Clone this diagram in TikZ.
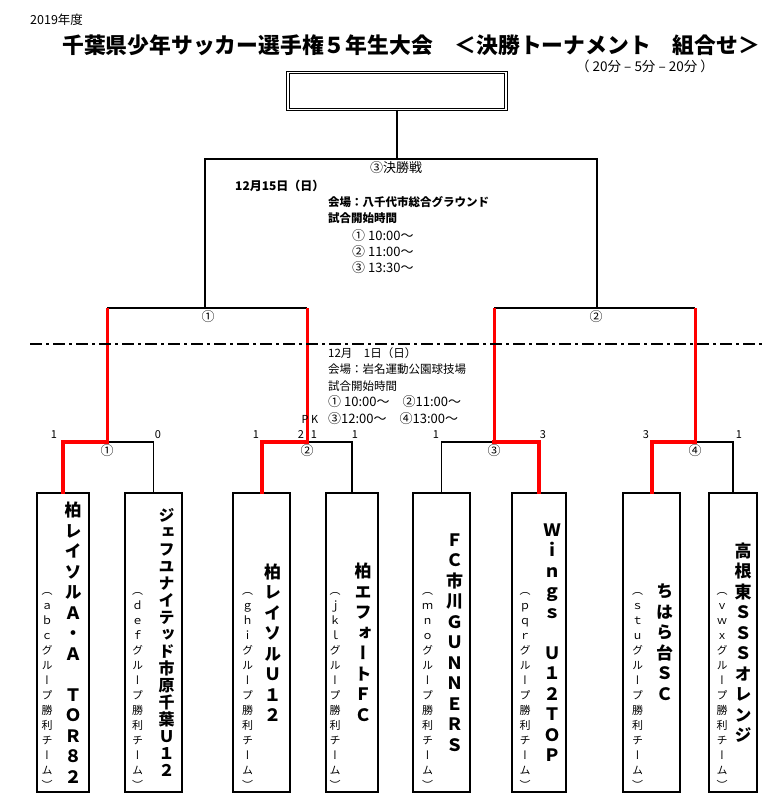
\documentclass[tikz,border=0pt]{standalone}
\usepackage{fontspec}
\setmainfont{Noto Sans CJK JP}
\newfontfamily\tatefont{Noto Sans CJK JP}[RawFeature=+vert]
\usetikzlibrary{positioning}

\ExplSyntaxOn
\NewDocumentCommand\tate{O{20.5pt}m}
 {
  \vbox{
   \baselineskip=#1 \lineskiplimit=-\maxdimen
   \tl_map_inline:nn {#2} { \hbox to 1.2em {\hss ##1 \hss} }
  }
 }
\ExplSyntaxOff

\begin{document}
\begin{tikzpicture}[x=1pt,y=-1pt,
    bracket line/.style={draw=black,line width=1.2pt},
    final line/.style={draw=black,line width=1.6pt},
    win line/.style={draw=red,line width=4pt,line cap=rect},
    semi line/.style={draw=red,line width=3pt},
    team box/.style={draw,line width=1.1pt,minimum height=299pt,inner sep=0pt},
    team name/.style={inner sep=0pt,font=\tatefont\fontsize{17}{17}\selectfont\bfseries},
    group text/.style={inner sep=0pt,font=\tatefont\fontsize{11}{11}\selectfont},
    match no/.style={inner sep=0pt,font=\fontsize{13}{13}\selectfont},
    score/.style={inner sep=0pt,font=\fontsize{11}{11}\selectfont},
    info text/.style={inner sep=0pt,anchor=west,font=\fontsize{11.5}{12}\selectfont},
    bold info/.style={info text,font=\fontsize{11.5}{12}\selectfont\bfseries}]

  \useasboundingbox (0,0) rectangle (778,802);

  % heading
  \node[info text,font=\fontsize{12.5}{12.5}\selectfont] (year) at (30,20) {2019年度};
  \node[info text,font=\fontsize{21.8}{22}\selectfont\bfseries] (title) at (62,45)
    {千葉県少年サッカー選手権５年生大会　＜決勝トーナメント　組合せ＞};
  \node[info text,font=\fontsize{13.5}{13.5}\selectfont] (rule) at (576,66) {（ 20分 – 5分 – 20分 ）};

  \node[draw,double,line width=0.8pt,double distance=1.8pt,
        minimum width=218pt,minimum height=37pt] (champ) at (397,91) {};

  % teams
  \node[team box,minimum width=52pt] (t1) at (63,642.5) {};
  \node[team box,minimum width=57pt] (t2) at (153.5,642.5) {};
  \node[team box,minimum width=57pt] (t3) at (261.5,642.5) {};
  \node[team box,minimum width=52pt] (t4) at (352,642.5) {};
  \node[team box,minimum width=57pt] (t5) at (441.5,642.5) {};
  \node[team box,minimum width=54pt] (t6) at (539,642.5) {};
  \node[team box,minimum width=57pt] (t7) at (651.5,642.5) {};
  \node[team box,minimum width=48pt] (t8) at (733,642.5) {};

  \node[team name] (n1) at ([xshift=10pt]t1.center) {\tate{柏レイソルＡ・Ａ　ＴＯＲ８２}};
  \node[team name,font=\tatefont\fontsize{16}{16}\selectfont\bfseries] (n2) at ([xshift=13pt]t2.center) {\tate[17pt]{ジェフユナイテッド市原千葉Ｕ１２}};
  \node[team name] (n3) at ([xshift=11pt]t3.center) {\tate{柏レイソルＵ１２}};
  \node[team name] (n4) at ([xshift=11pt]t4.center) {\tate{柏エフォートＦＣ}};
  \node[team name] (n5) at ([xshift=13pt]t5.center) {\tate{ＦＣ市川ＧＵＮＮＥＲＳ}};
  \node[team name] (n6) at ([xshift=13pt]t6.center) {\tate{Ｗｉｎｇｓ　Ｕ１２ＴＯＰ}};
  \node[team name] (n7) at ([xshift=13pt]t7.center) {\tate{ちはら台ＳＣ}};
  \node[team name] (n8) at ([xshift=10pt]t8.center) {\tate{高根東ＳＳＳオレンジ}};

  \node[group text] (g1) at ([shift={(-16,48)}]t1.center) {\tate[15pt]{（ａｂｃグループ勝利チーム）}};
  \node[group text] (g2) at ([shift={(-16,48)}]t2.center) {\tate[15pt]{（ｄｅｆグループ勝利チーム）}};
  \node[group text] (g3) at ([shift={(-14,48)}]t3.center) {\tate[15pt]{（ｇｈｉグループ勝利チーム）}};
  \node[group text] (g4) at ([shift={(-17,48)}]t4.center) {\tate[15pt]{（ｊｋｌグループ勝利チーム）}};
  \node[group text] (g5) at ([shift={(-14,48)}]t5.center) {\tate[15pt]{（ｍｎｏグループ勝利チーム）}};
  \node[group text] (g6) at ([shift={(-14,48)}]t6.center) {\tate[15pt]{（ｐｑｒグループ勝利チーム）}};
  \node[group text] (g7) at ([shift={(-14,48)}]t7.center) {\tate[15pt]{（ｓｔｕグループ勝利チーム）}};
  \node[group text] (g8) at ([shift={(-11,48)}]t8.center) {\tate[15pt]{（ｖｗｘグループ勝利チーム）}};

  % bracket points
  \coordinate (m1) at (107,442);
  \coordinate (m2) at (307,442);
  \coordinate (m3) at (494,442);
  \coordinate (m4) at (695,442);
  \coordinate (s1) at (205,308);
  \coordinate (s2) at (597,308);
  \coordinate (f) at (397,159);

  % first round
  \draw[bracket line] (m1) -| (t2.north);
  \draw[bracket line] (m2) -| (t4.north);
  \draw[bracket line] (m3) -| (t5.north);
  \draw[bracket line] (m4) -| (t8.north);
  \draw[win line] (m1) -| (t1.north);
  \draw[win line] (m2) -| (t3.north);
  \draw[win line] (m3) -| (t6.north);
  \draw[win line] (m4) -| (t7.north);

  % semi finals
  \draw[bracket line] (m1 |- s1) -- (m2 |- s1);
  \draw[bracket line] (m3 |- s2) -- (m4 |- s2);
  \draw[semi line] (m1 |- s1) -- (m1);
  \draw[semi line] (m2 |- s1) -- (m2);
  \draw[semi line] (m3 |- s2) -- (m3);
  \draw[semi line] (m4 |- s2) -- (m4);

  % final
  \draw[final line] (s1) |- (f) -| (s2);
  \draw[final line] (champ) -- (f);

  \draw[line width=2.5pt,dash pattern=on 12pt off 4pt on 3pt off 4pt] (30,344) -- (762,344);

  % match numbers and scores
  \node[match no] (r1) at ([yshift=-9pt]m1) {①};
  \node[match no] (r2) at ([yshift=-9pt]m2) {②};
  \node[match no] (r3) at ([yshift=-9pt]m3) {③};
  \node[match no] (r4) at ([yshift=-9pt]m4) {④};
  \node[match no] (sf1) at (208,317) {①};
  \node[match no] (sf2) at (596,317) {②};

  \node[score] at (54,435) {1};
  \node[score] at (158,435) {0};
  \node[score] at (256,435) {1};
  \node[score] at (301,435) {2};
  \node[score] at (314,435) {1};
  \node[score] at (355,435) {1};
  \node[score] at (436,435) {1};
  \node[score] at (543,435) {3};
  \node[score] at (646,435) {3};
  \node[score] at (739,435) {1};
  \node[score] (pk) at (310,419) {P K};

  % schedule
  \node[match no] (fname) at (396,168) {③決勝戦};
  \node[bold info,font=\fontsize{12}{12}\selectfont\bfseries] (d1) at (235,186) {12月15日（日）};
  \node[bold info] (v1) at (328,202) {会場：八千代市総合グラウンド};
  \node[bold info] (k1) at (328,218) {試合開始時間};
  \node[info text,font=\fontsize{13}{13}\selectfont] at (352,236) {① 10:00～};
  \node[info text,font=\fontsize{13}{13}\selectfont] at (352,252) {② 11:00～};
  \node[info text,font=\fontsize{13}{13}\selectfont] at (352,268) {③ 13:30～};

  \node[info text] (d2) at (328,353) {12月　1日（日）};
  \node[info text] (v2) at (328,369) {会場：岩名運動公園球技場};
  \node[info text] (k2) at (328,386) {試合開始時間};
  \node[info text,font=\fontsize{13}{13}\selectfont] at (328,402) {① 10:00～　②11:00～};
  \node[info text,font=\fontsize{13}{13}\selectfont] at (328,419) {③12:00～　④13:00～};
\end{tikzpicture}
\end{document}
